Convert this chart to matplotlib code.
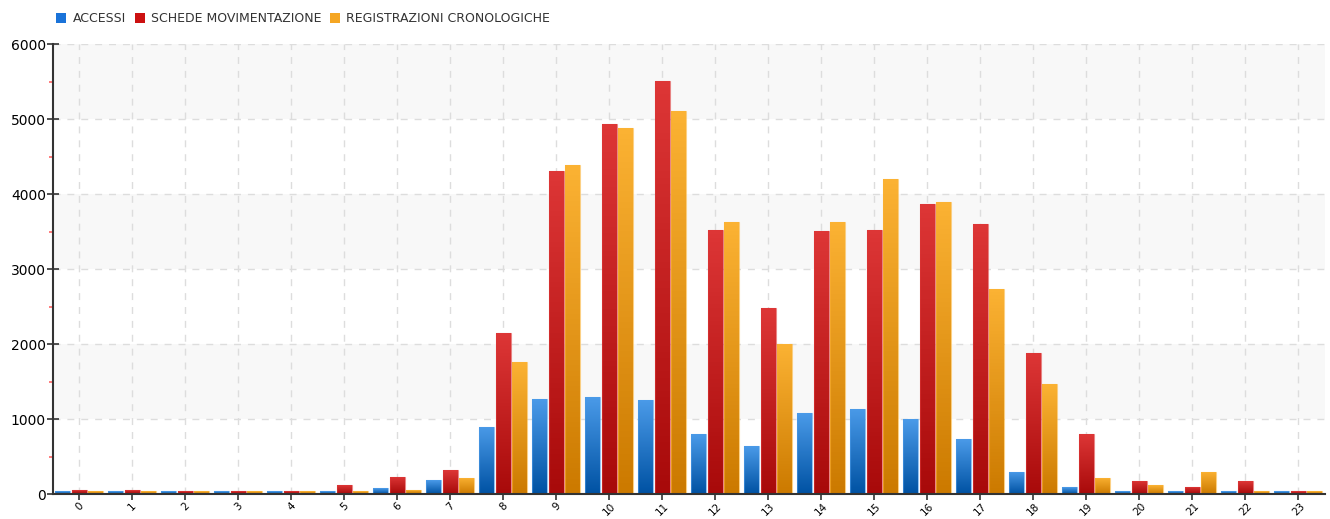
import numpy as np
import matplotlib
matplotlib.use('agg')
import matplotlib.pyplot as plt
from matplotlib.colors import LinearSegmentedColormap
from matplotlib.patches import Patch

hours = [str(h) for h in range(24)]
accessi = [35, 35, 35, 35, 35, 35, 75, 185, 900, 1265, 1290, 1250,
           800, 640, 1075, 1135, 1000, 730, 300, 90, 40, 35, 35, 35]
schede = [60, 60, 45, 45, 45, 115, 230, 320, 2145, 4305, 4935, 5505,
          3520, 2480, 3510, 3520, 3865, 3600, 1880, 795, 175, 100, 170, 40]
registrazioni = [35, 35, 35, 35, 35, 35, 60, 215, 1760, 4385, 4880, 5105,
                 3625, 2000, 3625, 4200, 3890, 2730, 1465, 220, 120, 300, 35, 35]

series = [
    ('ACCESSI', accessi, '#1a73d9', '#4a9ae8', '#0052a3'),
    ('SCHEDE MOVIMENTAZIONE', schede, '#cc1111', '#dd3636', '#a80a0a'),
    ('REGISTRAZIONI CRONOLOGICHE', registrazioni, '#f5a623', '#fbb233', '#cc7a00'),
]

fig = plt.figure(figsize=(13.3, 5.19), dpi=100)
ax = fig.add_axes([0.0398, 0.048, 0.9564, 0.867])

x = np.arange(len(hours))
width = 0.28
offsets = [-0.315, 0.0, 0.31]

# alternating background bands
for lo in (1000, 3000, 5000):
    ax.axhspan(lo, lo + 1000, color='#f8f8f8', zorder=0, lw=0)

grad = np.linspace(0, 1, 64).reshape(-1, 1)
for (name, vals, base, top, bottom), off in zip(series, offsets):
    bars = ax.bar(x + off, vals, width, color=base, edgecolor='none', zorder=2)
    cmap = LinearSegmentedColormap.from_list(name, [bottom, top])
    for b in bars:
        x0, y0 = b.get_x(), b.get_y()
        w, h = b.get_width(), b.get_height()
        im = ax.imshow(grad, extent=(x0, x0 + w, y0, y0 + h), origin='lower',
                       cmap=cmap, aspect='auto', zorder=3)
        im.set_clip_path(b)
        # lighter rim
        ax.bar(x0 + w / 2, h, w, fill=False, edgecolor=top, lw=0.8,
               alpha=0.6, zorder=4)

ax.set_xlim(-0.5, 23.5)
ax.set_ylim(0, 6000)
ax.set_xticks(x)
ax.set_xticklabels(hours, rotation=45, fontsize=7.5, ha='center')
ax.set_yticks(range(0, 6001, 1000))
ax.set_yticklabels([str(v) for v in range(0, 6001, 1000)], fontsize=10)
ax.set_yticks(range(500, 6000, 1000), minor=True)
ax.tick_params(axis='y', which='major', direction='inout', length=8, width=1.2, color='#333333', pad=1)
ax.tick_params(axis='y', which='minor', direction='out', length=3, width=1.2, color='#ff6666')
ax.tick_params(axis='x', which='major', direction='out', length=4, width=1.2, color='#333333', pad=1)

ax.grid(True, which='major', color='#dddddd', linestyle=(0, (5, 5)), lw=1, zorder=1)
ax.set_axisbelow(True)
for s in ('top', 'right'):
    ax.spines[s].set_visible(False)
for s in ('left', 'bottom'):
    ax.spines[s].set_color('#333333')
    ax.spines[s].set_linewidth(1.5)
    ax.spines[s].set_zorder(5)

handles = [Patch(facecolor=base, edgecolor='none') for _, _, base, _, _ in series]
labels = [name for name, *_ in series]
fig.legend(handles, labels, loc='upper left', bbox_to_anchor=(0.034, 0.998), ncol=3,
           frameon=False, fontsize=9, handlelength=0.8, handleheight=0.8,
           handletextpad=0.5, columnspacing=0.7, labelcolor='#333333')

fig.savefig('out.png', dpi=100)
